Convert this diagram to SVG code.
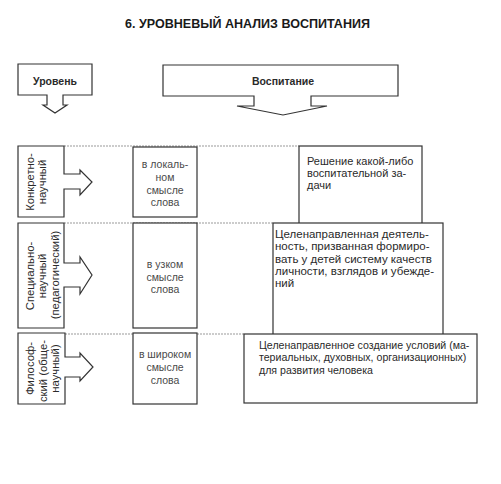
<svg xmlns="http://www.w3.org/2000/svg" width="501" height="484" viewBox="0 0 501 484">
<style>
.box{fill:#fff;stroke:#333;stroke-width:1.2}
.arr{fill:#fff;stroke:#333;stroke-width:1.2;stroke-linejoin:miter}
.dot{stroke:#999;stroke-width:1;stroke-dasharray:2 1;fill:none}
text{font-family:"Liberation Sans",Arial,sans-serif;font-size:10.5px;fill:#2a2a2a}
.t{font-weight:bold;font-size:12.5px;fill:#1a1a1a}
.h{font-weight:bold;font-size:10.5px;fill:#2a2a2a}
.m{text-anchor:middle;fill:#4a4a4a}
.v{text-anchor:middle;font-size:11.3px}
.d1{font-size:11px}
.d2{font-size:11.5px}
.d3{font-size:10.6px}
</style>
<rect width="501" height="484" fill="#fff"/>
<text class="t" x="247.5" y="28" text-anchor="middle" textLength="245" lengthAdjust="spacingAndGlyphs">6. УРОВНЕВЫЙ АНАЛИЗ ВОСПИТАНИЯ</text>

<g id="connectors">
<line class="dot" x1="64" y1="146" x2="299" y2="146"/>
<line class="dot" x1="64" y1="223" x2="273" y2="223"/>
<line class="dot" x1="65" y1="334" x2="244" y2="334"/>
</g>

<g id="head-level">
<path class="arr" d="M18,64 H92 V95 H63 V105 H67 L55,113 L43,105 H47 V95 H18 Z"/>
<text class="h" x="55" y="84.5" text-anchor="middle">Уровень</text>
</g>
<g id="head-upbringing">
<path class="arr" d="M163,65 H398 V96 H311 V106 H327 L283,115 L237,106 H254 V96 H163 Z"/>
<text class="h" x="283" y="85" text-anchor="middle">Воспитание</text>
</g>

<g id="level1">
<path class="arr" d="M18,146 H64 V174 H80 V170 L92,182 L80,195 V189 H64 V217 H18 Z"/>
<text class="v" transform="translate(33.5,182) rotate(-90)">Конкретно-</text>
<text class="v" transform="translate(45.5,182) rotate(-90)">научный</text>
</g>
<g id="level2">
<path class="arr" d="M18,223 H64 V263 H80 V257 L92,275 L80,294 V287 H64 V328 H18 Z"/>
<text class="v" transform="translate(33.5,276) rotate(-90)">Специально-</text>
<text class="v" transform="translate(46,276) rotate(-90)">научный</text>
<text class="v" transform="translate(59,275) rotate(-90)">(педагогический)</text>
</g>
<g id="level3">
<path class="arr" d="M18,333 H65 V357 H80 V353 L93,367 L80,381 V377 H65 V404 H18 Z"/>
<text class="v" transform="translate(34,368.5) rotate(-90)">Философ-</text>
<text class="v" transform="translate(46.5,371) rotate(-90)">ский (обще-</text>
<text class="v" transform="translate(59,368.5) rotate(-90)">научный)</text>
</g>

<g id="sense1">
<rect class="box" x="133" y="147" width="64" height="70"/>
<text class="m" x="165" y="167.5">в локаль-</text>
<text class="m" x="165" y="180.5">ном</text>
<text class="m" x="165" y="193.5">смысле</text>
<text class="m" x="165" y="206">слова</text>
</g>
<g id="sense2">
<rect class="box" x="133" y="223" width="64" height="105"/>
<text class="m" x="165" y="268">в узком</text>
<text class="m" x="165" y="280.5">смысле</text>
<text class="m" x="165" y="293">слова</text>
</g>
<g id="sense3">
<rect class="box" x="133" y="333" width="64" height="71"/>
<text class="m" x="165" y="357.5">в широком</text>
<text class="m" x="165" y="370.5">смысле</text>
<text class="m" x="165" y="383.5">слова</text>
</g>

<g id="def1">
<rect class="box" x="299" y="146" width="123" height="100"/>
<text class="d1" x="307" y="165">Решение какой-либо</text>
<text class="d1" x="307" y="177">воспитательной за-</text>
<text class="d1" x="307" y="189">дачи</text>
</g>
<g id="def2">
<rect class="box" x="273" y="223" width="170" height="130"/>
<text class="d2" x="275" y="238">Целенаправленная деятель-</text>
<text class="d2" x="275" y="250">ность, призванная формиро-</text>
<text class="d2" x="275" y="262.5">вать у детей систему качеств</text>
<text class="d2" x="275" y="275">личности, взглядов и убежде-</text>
<text class="d2" x="275" y="287">ний</text>
</g>
<g id="def3">
<rect class="box" x="244" y="334" width="233" height="69"/>
<text class="d3" x="259" y="348.5">Целенаправленное создание условий (ма-</text>
<text class="d3" x="259" y="361">териальных, духовных, организационных)</text>
<text class="d3" x="259" y="373.5">для развития человека</text>
</g>
</svg>
